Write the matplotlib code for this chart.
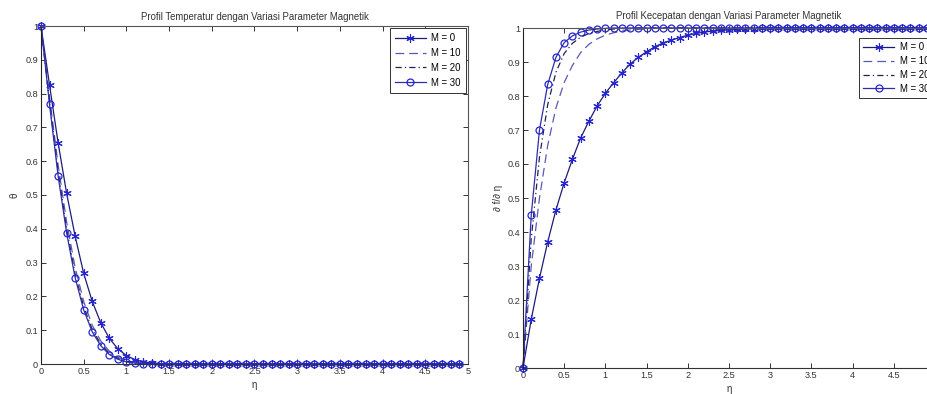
import numpy as np
import matplotlib
matplotlib.use("Agg")
import matplotlib.pyplot as plt

plt.rcParams['font.family'] = ['Liberation Sans', 'DejaVu Sans']

# eta grid (0 .. 4.9, step 0.1)
eta = np.round(np.arange(50) * 0.1, 1)

# Temperature profiles
theta_M0 = [1.0, 0.825, 0.655, 0.505, 0.378, 0.268, 0.185, 0.122, 0.076, 0.045,
            0.025, 0.013, 0.006, 0.003, 0.001, 0, 0, 0, 0, 0,
            0, 0, 0, 0, 0, 0, 0, 0, 0, 0,
            0, 0, 0, 0, 0, 0, 0, 0, 0, 0,
            0, 0, 0, 0, 0, 0, 0, 0, 0, 0]
theta_M10 = [1.0, 0.79, 0.59, 0.42, 0.285, 0.185, 0.115, 0.068, 0.038, 0.02,
             0.01, 0.005, 0.002, 0.001, 0, 0, 0, 0, 0, 0,
             0, 0, 0, 0, 0, 0, 0, 0, 0, 0,
             0, 0, 0, 0, 0, 0, 0, 0, 0, 0,
             0, 0, 0, 0, 0, 0, 0, 0, 0, 0]
theta_M20 = [1.0, 0.775, 0.57, 0.40, 0.265, 0.17, 0.102, 0.059, 0.032, 0.016,
             0.008, 0.004, 0.002, 0.001, 0, 0, 0, 0, 0, 0,
             0, 0, 0, 0, 0, 0, 0, 0, 0, 0,
             0, 0, 0, 0, 0, 0, 0, 0, 0, 0,
             0, 0, 0, 0, 0, 0, 0, 0, 0, 0]
theta_M30 = [1.0, 0.768, 0.557, 0.388, 0.255, 0.16, 0.095, 0.054, 0.028, 0.014,
             0.006, 0.003, 0.001, 0, 0, 0, 0, 0, 0, 0,
             0, 0, 0, 0, 0, 0, 0, 0, 0, 0,
             0, 0, 0, 0, 0, 0, 0, 0, 0, 0,
             0, 0, 0, 0, 0, 0, 0, 0, 0, 0]

# Velocity profiles
vel_M0 = [0, 0.143, 0.264, 0.371, 0.465, 0.545, 0.614, 0.677, 0.726, 0.771,
          0.808, 0.839, 0.868, 0.894, 0.914, 0.930, 0.945, 0.956, 0.964, 0.972,
          0.979, 0.984, 0.988, 0.991, 0.993, 0.995, 0.996, 0.997, 0.998, 0.999,
          0.999, 1, 1, 1, 1, 1, 1, 1, 1, 1,
          1, 1, 1, 1, 1, 1, 1, 1, 1, 1]
vel_M10 = [0, 0.30, 0.50, 0.655, 0.765, 0.84, 0.89, 0.928, 0.952, 0.968,
           0.979, 0.986, 0.991, 0.994, 0.996, 0.998, 0.999, 1, 1, 1,
           1, 1, 1, 1, 1, 1, 1, 1, 1, 1,
           1, 1, 1, 1, 1, 1, 1, 1, 1, 1,
           1, 1, 1, 1, 1, 1, 1, 1, 1, 1]
vel_M20 = [0, 0.38, 0.62, 0.775, 0.87, 0.925, 0.955, 0.973, 0.984, 0.99,
           0.994, 0.997, 0.998, 0.999, 1, 1, 1, 1, 1, 1,
           1, 1, 1, 1, 1, 1, 1, 1, 1, 1,
           1, 1, 1, 1, 1, 1, 1, 1, 1, 1,
           1, 1, 1, 1, 1, 1, 1, 1, 1, 1]
vel_M30 = [0, 0.45, 0.70, 0.834, 0.914, 0.957, 0.977, 0.988, 0.994, 0.997,
           0.999, 1, 1, 1, 1, 1, 1, 1, 1, 1,
           1, 1, 1, 1, 1, 1, 1, 1, 1, 1,
           1, 1, 1, 1, 1, 1, 1, 1, 1, 1,
           1, 1, 1, 1, 1, 1, 1, 1, 1, 1]

labels = ['M = 0', 'M = 10', 'M = 20', 'M = 30']
xtick_labels = ['0', '0.5', '1', '1.5', '2', '2.5', '3', '3.5', '4', '4.5', '5']
ytick_labels = ['0', '0.1', '0.2', '0.3', '0.4', '0.5', '0.6', '0.7', '0.8', '0.9', '1']

fig = plt.figure(figsize=(9.28, 3.94), dpi=100)
ax1 = fig.add_axes([41/928, 30/394, 427/928, 338/394])
ax2 = fig.add_axes([523/928, 26/394, 412/928, 340/394])

c0 = '#1c1c78'
c10 = '#5858b8'
c20 = '#22224e'
c30 = '#2e2ea8'
mk = '#2424d0'
ast = (6, 2, 0)


def draw(ax, s0, s10, s20, s30, xl):
    ax.plot(eta, s0, color=c0, lw=0.9, marker=ast, ms=6, mec=mk, mfc=mk, mew=0.8, label=labels[0])
    ax.plot(eta, s10, color=c10, lw=0.9, ls=(0, (7, 4)), label=labels[1])
    ax.plot(eta, s20, color=c20, lw=0.9, ls=(0, (5, 2.5, 1, 2.5)), label=labels[2])
    ax.plot(eta, s30, color=c30, lw=0.9, marker='o', ms=5, mec=mk, mfc='none', mew=0.9, label=labels[3])
    ax.set_xlim(0, 5)
    ax.set_ylim(0, 1)
    ax.set_xticks(np.arange(0, 5.01, 0.5))
    ax.set_xticklabels(xl)
    ax.set_yticks(np.arange(0, 1.01, 0.1))
    ax.set_yticklabels(ytick_labels)
    ax.tick_params(direction='in', top=True, right=True, length=3.5, width=0.7,
                   labelsize=6.6, pad=2, colors='#333333')
    for sp in ax.spines.values():
        sp.set_linewidth(0.8)
        sp.set_color('#555555')
        sp.set_clip_on(False)
    ax.spines['left'].set_color('#222222')
    ax.spines['bottom'].set_color('#333333')
    for ln in ax.lines:
        ln.set_clip_on(False)


draw(ax1, theta_M0, theta_M10, theta_M20, theta_M30, xtick_labels)
# the "5" of the right panel lies beyond the picture's edge in the reference
draw(ax2, vel_M0, vel_M10, vel_M20, vel_M30, xtick_labels[:-1] + [''])

ax1.set_title('Profil Temperatur dengan Variasi Parameter Magnetik', fontsize=6.9, pad=4, color='#333333')
ax2.set_title('Profil Kecepatan dengan Variasi Parameter Magnetik', fontsize=6.9, pad=6.5, color='#333333')
ax1.set_xlabel('η', fontsize=7, labelpad=3, color='#333333')
ax2.set_xlabel('η', fontsize=7, labelpad=3, color='#333333')
ax1.set_ylabel('θ', fontsize=7, labelpad=4, color='#333333')
ax2.set_ylabel('∂ f/∂ η', fontsize=7, labelpad=3, color='#333333')

leg_kw = dict(fontsize=6.9, frameon=True, fancybox=False, framealpha=1,
              borderpad=0.55, labelspacing=0.5, handlelength=3.2, handletextpad=0.6,
              borderaxespad=0.2)
l1 = ax1.legend(loc='upper right', **leg_kw)
l1.get_frame().set_edgecolor('#333333')
l1.get_frame().set_linewidth(0.7)
leg_kw.update(borderpad=0.4, labelspacing=0.4)
l2 = ax2.legend(loc='upper right', bbox_to_anchor=(1.0, 0.975), **leg_kw)
l2.get_frame().set_edgecolor('#333333')
l2.get_frame().set_linewidth(0.7)

fig.savefig('out.png', dpi=100)
